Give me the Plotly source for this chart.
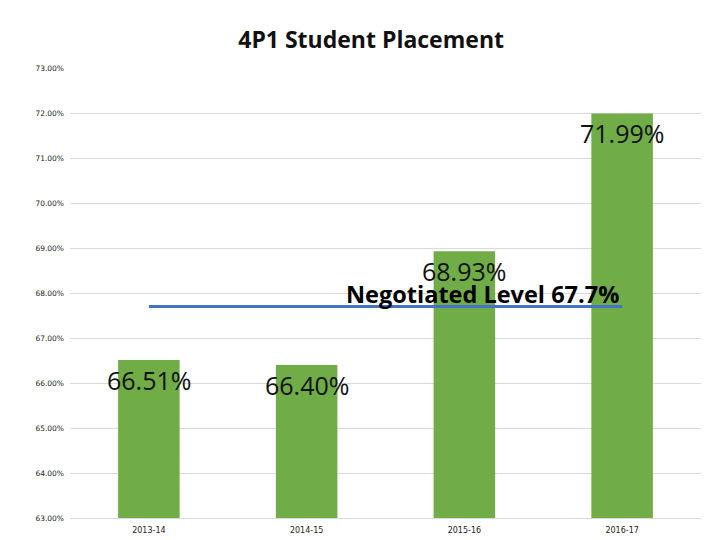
import plotly.graph_objects as go

# data
years = ["2013-14", "2014-15", "2015-16", "2016-17"]
placement = [66.51, 66.40, 68.93, 71.99]
negotiated = 67.7
tick_vals = [63, 64, 65, 66, 67, 68, 69, 70, 71, 72, 73]

fig = go.Figure()

fig.add_trace(go.Bar(
    x=years, y=placement,
    marker=dict(color="#70AD47", line=dict(width=0)),
    width=0.39
))

# negotiated level line across bar centres
fig.add_trace(go.Scatter(
    x=[years[0], years[-1]], y=[negotiated, negotiated],
    mode="lines", line=dict(color="#4472C4", width=3),
    hoverinfo="skip"
))

# value labels, just below each bar top
for yr, v in zip(years, placement):
    fig.add_annotation(
        x=yr, y=v, text=f"{v:.2f}%", showarrow=False,
        yshift=-20, font=dict(family="Open Sans", size=25, color="#111111")
    )

fig.add_annotation(
    xref="paper", x=0.653, y=negotiated,
    text=f"<b>Negotiated Level {negotiated}%</b>", showarrow=False,
    yshift=13, font=dict(family="Open Sans", size=23.5, color="#000000")
)

# page body adds ~8px offset, so size/margins are compensated
fig.update_layout(
    width=712, height=532,
    title=dict(text="<b>4P1 Student Placement</b>", x=0.51, xanchor="center",
               y=0.94, yanchor="middle",
               font=dict(family="Open Sans", size=23, color="#111111")),
    plot_bgcolor="white", paper_bgcolor="white",
    showlegend=False,
    margin=dict(l=62, r=19, t=60, b=22, autoexpand=False),
    xaxis=dict(showgrid=False, showline=True, linecolor="#d9d9d9", linewidth=1,
               automargin=False, ticks="", ticklabelstandoff=4,
               tickfont=dict(family="DejaVu Sans", size=8, color="#222222")),
    yaxis=dict(range=[63, 73], tickvals=tick_vals,
               ticktext=[f"{t:.2f}%" for t in tick_vals], automargin=False,
               showgrid=True, gridcolor="#d9d9d9", gridwidth=1,
               zeroline=False, ticks="", ticklabelstandoff=5,
               tickfont=dict(family="DejaVu Sans", size=7.5, color="#222222")),
)

fig.write_html("out.html")
